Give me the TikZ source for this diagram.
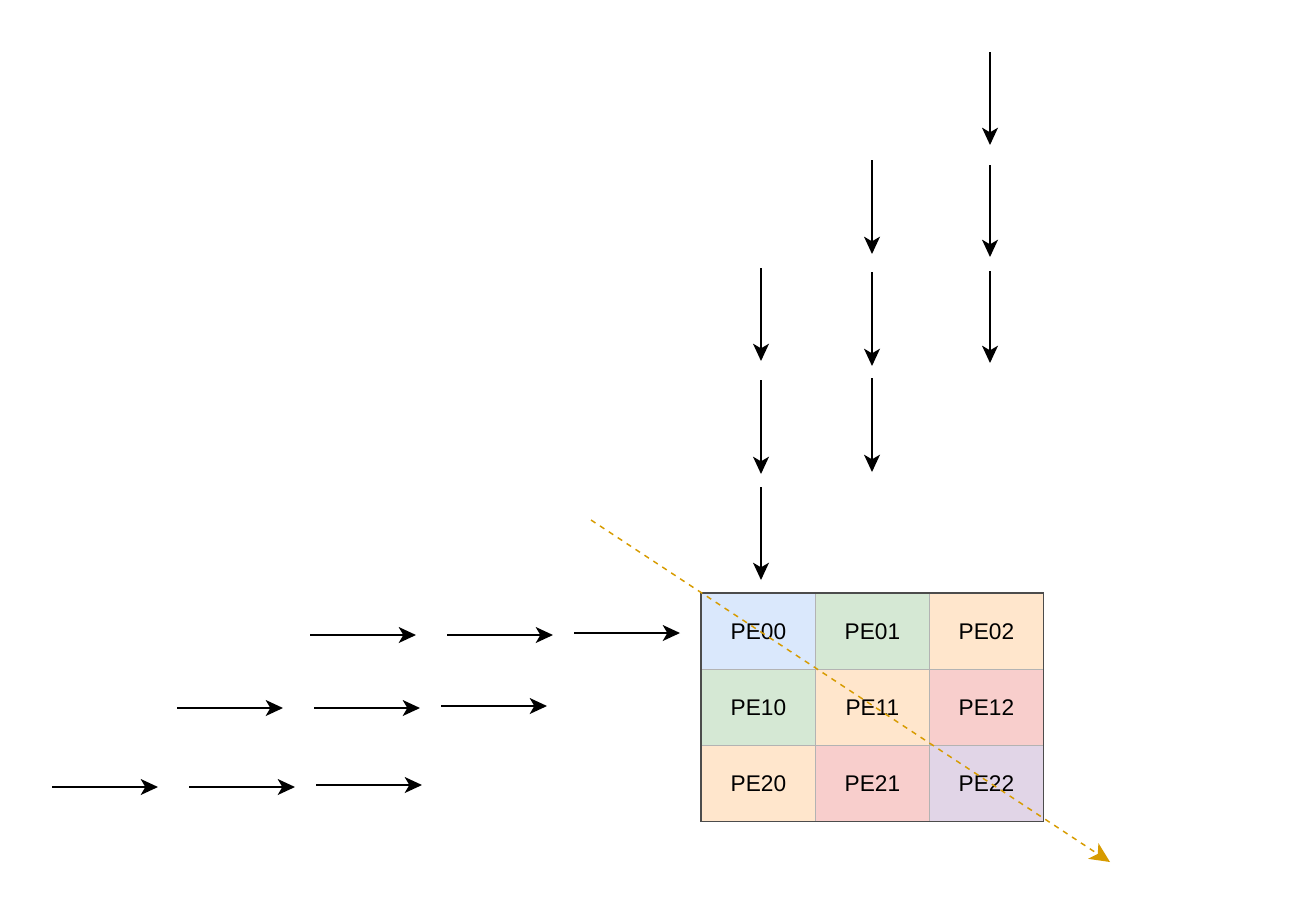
\documentclass[tikz,border=0pt]{standalone}
\usepackage{fontspec}
\setmainfont{Liberation Sans}
\usetikzlibrary{arrows.meta}
\definecolor{cblue}{HTML}{DAE8FC}
\definecolor{cgreen}{HTML}{D5E8D4}
\definecolor{corange}{HTML}{FFE6CC}
\definecolor{cred}{HTML}{F8CECC}
\definecolor{cpurple}{HTML}{E1D5E7}
\definecolor{cgold}{HTML}{D79B00}
\definecolor{cellline}{HTML}{B3B3B3}
\tikzset{
  flow/.style={line width=1.1pt, -{Stealth[length=13pt,width=12pt,inset=3.5pt]}},
  pe/.style={draw=cellline, line width=0.6pt, minimum width=114*0.75pt, minimum height=76*0.75pt,
             inner sep=0pt, font=\fontsize{17}{20}\selectfont, anchor=north west},
  diag/.style={draw=cgold, line width=1.1pt, dash pattern=on 4pt off 4pt,
               -{Stealth[length=15pt,width=14pt,inset=4pt]}}
}
\begin{document}
\begin{tikzpicture}[x=0.75pt,y=-0.75pt]
\useasboundingbox (0,0) rectangle (1306,918);
% grid
\node[pe,fill=cblue]   (pe00) at (701,593) {PE00};
\node[pe,fill=cgreen]  (pe01) at (815,593) {PE01};
\node[pe,fill=corange] (pe02) at (929,593) {PE02};
\node[pe,fill=cgreen]  (pe10) at (701,669) {PE10};
\node[pe,fill=corange] (pe11) at (815,669) {PE11};
\node[pe,fill=cred]    (pe12) at (929,669) {PE12};
\node[pe,fill=corange] (pe20) at (701,745) {PE20};
\node[pe,fill=cred]    (pe21) at (815,745) {PE21};
\node[pe,fill=cpurple] (pe22) at (929,745) {PE22};
\draw[line width=1pt, draw=black!70] (pe00.north west) rectangle (pe22.south east);
% diagonal
\coordinate (dA) at (591,520);
\coordinate (dB) at (1110,862);
\draw[diag] (dA) -- (dB);
% vertical arrows
\foreach \x/\ya/\yb/\n in {990/52/145/a1, 990/165/257/a2, 990/271/363/a3,
                           872/160/254/b1, 872/272/366/b2, 872/378/472/b3,
                           761/268/361/c1, 761/380/474/c2, 761/487/580/c3}{
  \coordinate (\n s) at (\x,\ya);
  \coordinate (\n e) at (\x,\yb);
  \draw[flow] (\n s) -- (\n e);
}
% horizontal arrows
\foreach \xa/\xb/\y/\n in {310/416/635/h1, 447/553/635/h2, 574/680/633/h3,
                           177/283/708/i1, 314/420/708/i2, 441/547/706/i3,
                           52/158/787/j1, 189/295/787/j2, 316/422/785/j3}{
  \coordinate (\n s) at (\xa,\y);
  \coordinate (\n e) at (\xb,\y);
  \draw[flow] (\n s) -- (\n e);
}
\end{tikzpicture}
\end{document}
